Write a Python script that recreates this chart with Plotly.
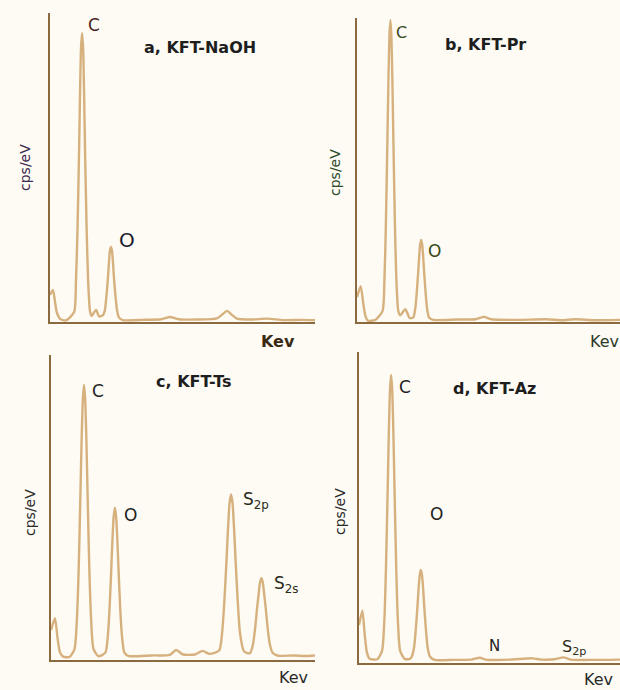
import plotly.graph_objects as go

# ---------------- data (x: energy, arbitrary keV units; y: cps/eV, relative) ----------------
a_x = [0.0, 0.11, 0.19, 0.26, 0.38, 0.6, 0.91, 0.98, 1.04, 1.10, 1.135, 1.17, 1.21, 1.25, 1.285, 1.32, 1.38,
       1.44, 1.51, 1.57, 1.74, 1.85, 2.0, 2.07, 2.13, 2.19, 2.225, 2.26, 2.30, 2.34, 2.375, 2.41, 2.47, 2.53,
       2.60, 2.75, 3.5, 4.2, 4.53, 4.85, 5.6, 6.3, 6.5, 6.68, 6.85, 7.05, 7.6, 8.2, 8.8, 9.5, 10.0]
a_y = [8.7, 10.4, 6.5, 3.0, 1.0, 0.5, 3.2, 13.1, 30.9, 56.8, 74.8, 88.5, 93.5, 88.5, 74.8, 56.8, 30.9,
       13.1, 3.5, 2.0, 3.9, 1.8, 2.2, 3.8, 8.4, 14.7, 19.4, 23.0, 24.3, 23.0, 19.4, 14.7, 8.4, 3.8,
       1.5, 0.6, 0.7, 0.9, 1.6, 0.9, 0.8, 1.2, 2.4, 3.6, 2.4, 1.1, 0.8, 1.1, 0.6, 0.7, 0.6]

b_x = [0.0, 0.14, 0.24, 0.32, 0.42, 0.7, 0.97, 1.044, 1.10, 1.157, 1.195, 1.232, 1.27, 1.308, 1.345, 1.383,
       1.44, 1.496, 1.57, 1.64, 1.84, 2.0, 2.14, 2.214, 2.27, 2.327, 2.365, 2.402, 2.44, 2.478, 2.515, 2.553,
       2.61, 2.666, 2.74, 2.9, 3.8, 4.5, 4.83, 5.1, 6.0, 7.2, 7.8, 8.3, 9.0, 10.0]
b_y = [8.2, 11.8, 6.0, 2.0, 0.4, 0.7, 3.6, 14.1, 33.0, 60.3, 79.4, 93.9, 99.3, 93.9, 79.4, 60.3,
       33.0, 14.1, 3.6, 2.2, 4.2, 1.3, 1.5, 4.3, 9.5, 16.4, 21.6, 25.5, 27.0, 25.5, 21.6, 16.4,
       9.5, 4.3, 1.5, 0.7, 0.8, 0.9, 1.7, 0.9, 0.7, 0.9, 0.6, 0.9, 0.6, 0.7]

c_x = [0.0, 0.15, 0.25, 0.34, 0.46, 0.7, 0.89, 0.98, 1.05, 1.115, 1.16, 1.205, 1.25, 1.295, 1.34, 1.385,
       1.45, 1.52, 1.61, 1.8, 2.06, 2.15, 2.22, 2.285, 2.33, 2.375, 2.42, 2.465, 2.51, 2.555, 2.62, 2.69,
       2.78, 2.95, 3.8, 4.5, 4.74, 5.0, 5.45, 5.74, 6.0, 6.37, 6.48, 6.565, 6.65, 6.707, 6.763, 6.82,
       6.877, 6.933, 6.99, 7.075, 7.16, 7.3, 7.45, 7.54, 7.65, 7.73, 7.81, 7.863, 7.917, 7.97, 8.023,
       8.077, 8.13, 8.21, 8.29, 8.40, 8.6, 9.2, 9.6, 10.0]
c_y = [9.8, 13.7, 7.0, 2.5, 1.1, 1.0, 3.6, 13.2, 30.3, 54.8, 72.2, 85.3, 90.2, 85.3, 72.2, 54.8,
       30.3, 13.2, 3.6, 1.2, 2.4, 7.7, 17.2, 30.3, 39.9, 47.2, 49.9, 47.2, 39.9, 30.3, 17.2, 7.7,
       2.4, 1.3, 1.5, 1.7, 3.3, 1.8, 1.8, 3.0, 2.0, 3.1, 8.8, 19.1, 33.0, 43.4, 51.4, 54.3,
       51.4, 43.4, 33.0, 19.1, 8.8, 3.0, 2.2, 2.3, 5.1, 10.2, 17.3, 21.4, 25.4, 26.8, 25.4,
       21.4, 17.3, 10.2, 5.1, 2.3, 1.4, 1.5, 1.3, 1.5]

d_x = [0.0, 0.13, 0.22, 0.3, 0.4, 0.7, 0.883, 0.97, 1.035, 1.10, 1.143, 1.187, 1.23, 1.273, 1.317, 1.36,
       1.425, 1.49, 1.577, 1.75, 1.95, 2.023, 2.11, 2.175, 2.24, 2.283, 2.327, 2.37, 2.413, 2.457, 2.50,
       2.565, 2.63, 2.717, 2.9, 3.6, 4.3, 4.63, 4.9, 5.8, 6.64, 7.0, 7.5, 7.84, 8.1, 9.0, 10.0]
d_y = [12.2, 16.8, 9.0, 3.5, 1.4, 1.2, 3.9, 13.5, 31.1, 56.2, 74.1, 87.6, 92.6, 87.6, 74.1, 56.2,
       31.1, 13.5, 3.9, 1.3, 1.3, 2.1, 5.0, 10.7, 18.1, 23.9, 28.3, 29.9, 28.3, 23.9, 18.1,
       10.7, 5.0, 2.1, 1.0, 1.0, 1.1, 1.7, 1.0, 1.1, 1.5, 1.1, 1.2, 1.8, 1.1, 1.0, 1.1]

panel_titles = ["a, KFT-NaOH", "b, KFT-Pr", "c, KFT-Ts", "d, KFT-Az"]
x_title = "Kev"
y_title = "cps/eV"
peak_labels_a = ["C", "O"]
peak_labels_b = ["C", "O"]
peak_labels_c = ["C", "O", "S<sub>2p</sub>", "S<sub>2s</sub>"]
peak_labels_d = ["C", "O", "N", "S<sub>2p</sub>"]

# ---------------- layout helpers ----------------
W, H = 620, 690
BG = "#FDFBF4"
CURVE = "#D6B17E"
AXIS = "#8A6A3E"
FONT = "DejaVu Sans"


def px(x):
    return x / W


def py(y):
    return 1 - y / H


# panel geometry in pixels: (left, right, top, bottom)
panels = [
    (a_x, a_y, (50, 315, 13, 322)),
    (b_x, b_y, (357, 621, 18, 322)),
    (c_x, c_y, (51, 315, 355, 660)),
    (d_x, d_y, (359, 621, 352, 663)),
]

fig = go.Figure()
layout = dict(
    width=W, height=H, margin=dict(l=0, r=0, t=0, b=0),
    paper_bgcolor=BG, plot_bgcolor=BG, showlegend=False,
)

for i, (xs, ys, (l, r, t, b)) in enumerate(panels):
    n = i + 1
    xa = "x" if n == 1 else f"x{n}"
    ya = "y" if n == 1 else f"y{n}"
    fig.add_trace(go.Scatter(
        x=xs, y=ys, mode="lines", xaxis=xa, yaxis=ya,
        line=dict(color=CURVE, width=2.4, shape="spline", smoothing=0.6),
        hoverinfo="skip",
    ))
    ax_common = dict(showgrid=False, zeroline=False, showticklabels=False, ticks="",
                     showline=True, linecolor=AXIS, linewidth=2, fixedrange=True)
    layout[f"xaxis{'' if n == 1 else n}"] = dict(
        domain=[px(l), min(px(r), 1.0)], range=[0, 10], anchor=ya, **ax_common)
    layout[f"yaxis{'' if n == 1 else n}"] = dict(
        domain=[py(b), py(t)], range=[0, 100], anchor=xa, **ax_common)

fig.update_layout(**layout)

ann = []


def txt(text, x, y, size, color="#222222", bold=False, angle=0, xanchor="center"):
    ann.append(dict(
        text=f"<b>{text}</b>" if bold else text, x=px(x), y=py(y),
        xref="paper", yref="paper", showarrow=False, textangle=angle,
        xanchor=xanchor, yanchor="middle",
        font=dict(family=FONT, size=size, color=color),
    ))


# panel a
txt(panel_titles[0], 200, 47, 16, "#1e1e1e", bold=True)
txt(peak_labels_a[0], 94, 25, 17, "#4a1f1f")
txt(peak_labels_a[1], 127, 240, 20, "#1a1a2a")
txt(y_title, 25, 168, 14, "#3e2a4e", angle=-90)
txt(x_title, 278, 341, 16, "#3a2a12", bold=True)

# panel b
txt(panel_titles[1], 485, 45, 16, "#1e1e1e", bold=True)
txt(peak_labels_b[0], 401, 32, 16, "#3a4a1a")
txt(peak_labels_b[1], 434, 251, 17, "#3a4a1a")
txt(y_title, 335, 173, 14, "#2c4a2a", angle=-90)
txt(x_title, 604, 341, 16, "#2c3a2a")

# panel c
txt(panel_titles[2], 194, 382, 16, "#1e1e1e", bold=True)
txt(peak_labels_c[0], 98, 391, 17)
txt(peak_labels_c[1], 130, 515, 17)
txt(peak_labels_c[2], 241, 500, 17, "#2a2a1a", xanchor="left")
txt(peak_labels_c[3], 272, 584, 17, "#2a2a1a", xanchor="left")
txt(y_title, 30, 513, 14, "#2a2a2a", angle=-90)
txt(x_title, 293, 677, 16, "#2a2a2a")

# panel d
txt(panel_titles[3], 494, 388, 16, "#1e1e1e", bold=True)
txt(peak_labels_d[0], 405, 387, 17)
txt(peak_labels_d[1], 436, 514, 17)
txt(peak_labels_d[2], 494, 646, 15)
txt(peak_labels_d[3], 560, 647, 16, "#2a2a1a", xanchor="left")
txt(y_title, 340, 512, 14, "#2a2a2a", angle=-90)
txt(x_title, 598, 679, 16, "#2a2a2a")

fig.update_layout(annotations=ann)
fig.write_html("out.html")
